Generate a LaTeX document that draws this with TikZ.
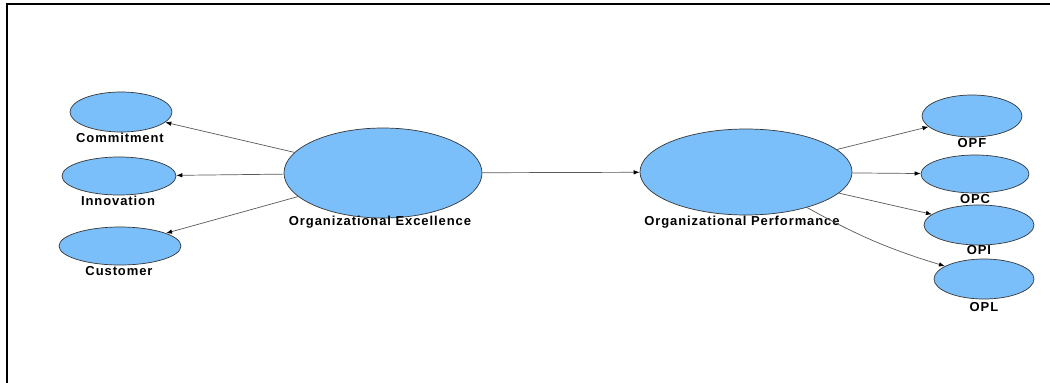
\documentclass[tikz,border=0pt]{standalone}
\usepackage{fontspec}
\setmainfont{Liberation Sans}
\newfontfamily\labfont[LetterSpace=7]{Liberation Sans}
\usetikzlibrary{shapes.geometric,arrows.meta}
\definecolor{lvfill}{RGB}{122,190,250}
\definecolor{lvline}{RGB}{55,55,55}
\definecolor{conncol}{RGB}{90,90,90}
\tikzset{
  lv/.style={ellipse, draw=lvline, fill=lvfill, line width=0.7pt, inner sep=0pt},
  lab/.style={font=\labfont\bfseries\fontsize{13}{15}\selectfont, inner sep=0pt, text=black},
  conn/.style={draw=conncol, line width=0.7pt, -{Latex[length=6pt,width=4.5pt,fill=black,color=black]}}
}
\begin{document}
\begin{tikzpicture}[x=1pt,y=-1pt]
\useasboundingbox (0,0) rectangle (1050,383);
\fill[white] (0,0) rectangle (1050,383);
\draw[line width=1.6pt] (7,383) -- (7,4) -- (1050,4);
% latent variables
\node[lv, minimum width=102pt, minimum height=40pt] (com) at (121,112) {};
\node[lv, minimum width=114pt, minimum height=38pt] (inn) at (119,176) {};
\node[lv, minimum width=122pt, minimum height=38pt] (cus) at (120,246) {};
\node[lv, minimum width=198pt, minimum height=90pt] (oe) at (383,173) {};
\node[lv, minimum width=212pt, minimum height=86pt] (op) at (746,172) {};
\node[lv, minimum width=100pt, minimum height=42pt] (opf) at (972,116) {};
\node[lv, minimum width=108pt, minimum height=38pt] (opc) at (975,174) {};
\node[lv, minimum width=110pt, minimum height=40pt] (opi) at (979,225) {};
\node[lv, minimum width=100pt, minimum height=40pt] (opl) at (984,279) {};
% labels
\node[lab] (lcom) at (120,138) {Commitment};
\node[lab] (linn) at (118,201) {Innovation};
\node[lab] (lcus) at (119,271) {Customer};
\node[lab] (loe) at (380,222) {Organizational Excellence};
\node[lab] (lop) at (742,222) {Organizational Performance};
\node[lab] (lopf) at (972,143) {OPF};
\node[lab] (lopc) at (975,199) {OPC};
\node[lab] (lopi) at (979,250) {OPI};
\node[lab] (lopl) at (984,307) {OPL};
% connectors
\draw[conn] (oe) -- (com);
\draw[conn] (oe) -- (inn);
\draw[conn] (oe) -- (cus);
\draw[conn] (oe) -- (op);
\draw[conn] (op) -- (opf);
\draw[conn] (op) -- (opc);
\draw[conn] (op) -- (opi);
\draw[conn] (op) to[bend right=6] (opl);
\end{tikzpicture}
\end{document}
